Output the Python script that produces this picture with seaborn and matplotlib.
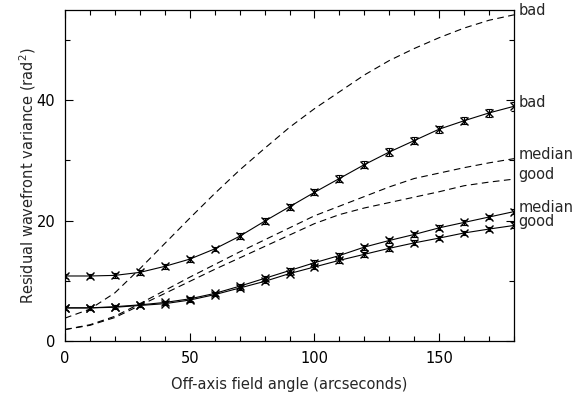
import matplotlib
matplotlib.use("Agg")
import matplotlib.pyplot as plt
import numpy as np
import pandas as pd
import seaborn as sns

sns.set_theme(style="ticks")
plt.rcParams["font.family"] = ["DejaVu Sans"]

# off-axis field angle (arcsec)
angle = [0, 10, 20, 30, 40, 50, 60, 70, 80, 90, 100, 110, 120, 130, 140, 150, 160, 170, 180]

# measured (solid, with error bars)
bad_meas = [10.8, 10.8, 10.9, 11.4, 12.4, 13.6, 15.3, 17.4, 19.9, 22.3, 24.7, 27.0, 29.3, 31.4, 33.3, 35.2, 36.6, 37.9, 39.0]
bad_err = [0.4, 0.4, 0.4, 0.4, 0.4, 0.4, 0.4, 0.5, 0.5, 0.5, 0.5, 0.6, 0.6, 0.6, 0.6, 0.6, 0.6, 0.7, 0.7]
median_meas = [5.5, 5.5, 5.7, 6.0, 6.4, 7.0, 7.9, 9.1, 10.4, 11.7, 13.0, 14.2, 15.6, 16.7, 17.7, 18.8, 19.7, 20.6, 21.5]
median_err = [0.3, 0.3, 0.3, 0.3, 0.3, 0.3, 0.3, 0.3, 0.4, 0.4, 0.4, 0.4, 0.4, 0.4, 0.4, 0.4, 0.4, 0.4, 0.4]
good_meas = [5.5, 5.5, 5.6, 5.9, 6.2, 6.8, 7.7, 8.8, 9.9, 11.2, 12.3, 13.4, 14.4, 15.4, 16.3, 17.1, 17.95, 18.6, 19.2]
good_err = [0.3, 0.3, 0.3, 0.3, 0.3, 0.3, 0.3, 0.3, 0.3, 0.3, 0.4, 0.4, 0.4, 0.4, 0.4, 0.4, 0.4, 0.4, 0.5]

# model curves (dashed)
bad_model = [3.8, 5.3, 8.0, 12.0, 16.2, 20.4, 24.5, 28.4, 32.0, 35.5, 38.6, 41.4, 44.2, 46.6, 48.6, 50.4, 52.0, 53.3, 54.2]
median_model = [1.9, 2.7, 4.1, 6.2, 8.4, 10.6, 12.7, 14.8, 16.8, 18.8, 20.8, 22.4, 24.0, 25.6, 27.0, 27.9, 28.8, 29.6, 30.3]
good_model = [1.9, 2.6, 3.9, 5.9, 7.9, 9.9, 11.9, 13.8, 15.7, 17.6, 19.5, 21.0, 22.1, 23.0, 23.9, 24.8, 25.8, 26.4, 26.9]

df = pd.DataFrame({
    "angle": angle,
    "bad_meas": bad_meas, "median_meas": median_meas, "good_meas": good_meas,
    "bad_model": bad_model, "median_model": median_model, "good_model": good_model,
})

fig = plt.figure(figsize=(5.79, 4.04), dpi=100)
ax = fig.add_axes([0.1123, 0.156, 0.7754, 0.8192])

# dashed model curves
for col in ["bad_model", "median_model", "good_model"]:
    sns.lineplot(data=df, x="angle", y=col, ax=ax, color="black", lw=0.8,
                 dashes=False, linestyle=(0, (6, 4)))

# measured curves with error bars
for col, err in [("bad_meas", bad_err), ("median_meas", median_err), ("good_meas", good_err)]:
    sns.lineplot(data=df, x="angle", y=col, ax=ax, color="black", lw=0.8,
                 marker="x", markersize=6, markeredgewidth=1.0, mec="black")
    ax.errorbar(df["angle"], df[col], yerr=err, fmt="none", ecolor="black",
                elinewidth=0.8, capsize=2.5, capthick=0.8)

# labels at the right-hand ends
labels = [("bad", bad_model[-1]), ("bad", bad_meas[-1]), ("median", median_model[-1]),
          ("good", good_model[-1]), ("median", median_meas[-1]), ("good", good_meas[-1])]
for text, yv in labels:
    ax.annotate(text, xy=(180, yv), xytext=(3, 3), textcoords="offset points",
                ha="left", va="center", fontsize=10.5, annotation_clip=False)

ax.set_xlim(0, 180)
ax.set_ylim(0, 55)
ax.set_xticks([0, 50, 100, 150])
ax.set_xticks(np.arange(0, 181, 10), minor=True)
ax.set_yticks([0, 20, 40])
ax.set_yticks([10, 30, 50], minor=True)
ax.tick_params(which="both", direction="in", top=True, right=True, width=0.8,
               labelsize=10.5, colors="black")
ax.tick_params(which="major", length=6, pad=7)
ax.tick_params(which="minor", length=3.5)
for s in ax.spines.values():
    s.set_linewidth(0.9)
    s.set_color("black")

ax.set_xlabel("Off-axis field angle (arcseconds)", fontsize=10.5, labelpad=8)
ax.set_ylabel("Residual wavefront variance (rad$^2$)", fontsize=10.5, labelpad=-1)

fig.savefig("out.png", dpi=100)
